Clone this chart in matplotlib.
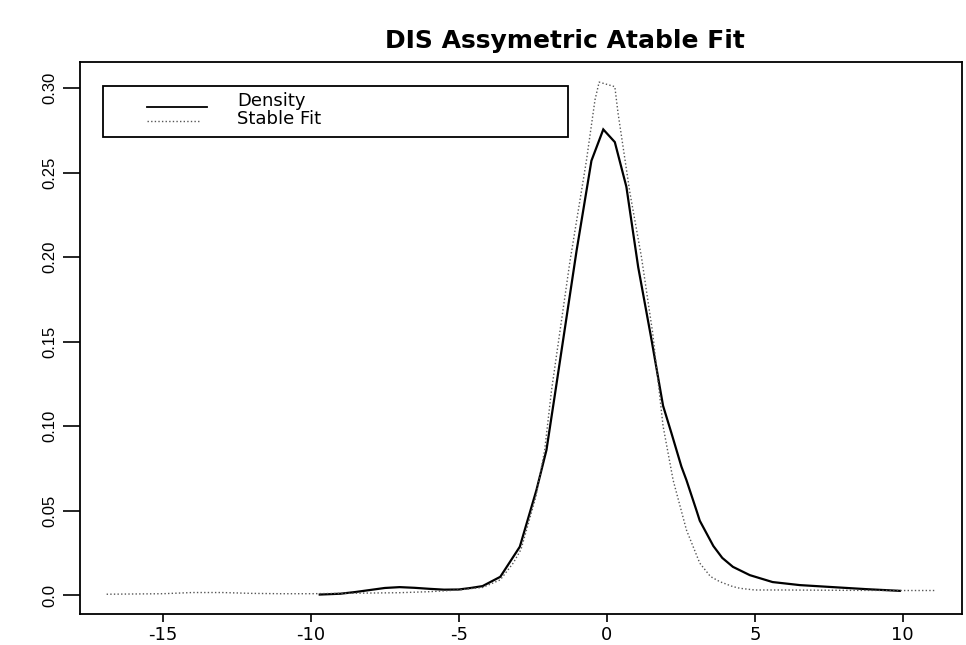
import matplotlib
matplotlib.use("Agg")
import matplotlib.pyplot as plt
from matplotlib.patches import Rectangle

# kernel density of the DIS returns (solid)
dens_x = [-9.7, -9.0, -8.5, -8.0, -7.5, -7.0, -6.5, -6.0, -5.5, -5.0, -4.6, -4.2,
          -3.6, -2.94, -2.38, -2.04, -1.76, -1.02, -0.52, -0.12, 0.27, 0.66,
          1.06, 1.5, 1.9, 2.18, 2.52, 2.69, 3.03, 3.14, 3.6, 3.9, 4.26, 4.83,
          5.6, 6.52, 7.64, 8.77, 9.9]
dens_y = [0.0003, 0.0008, 0.0018, 0.003, 0.0042, 0.0047, 0.0043, 0.0037, 0.0032,
          0.0033, 0.0042, 0.0053, 0.0108, 0.0286, 0.062, 0.0858, 0.118, 0.204,
          0.257, 0.2755, 0.268, 0.2416, 0.194, 0.152, 0.112, 0.096, 0.076, 0.068,
          0.050, 0.044, 0.029, 0.022, 0.0167, 0.0118, 0.0077, 0.0059, 0.0047,
          0.0035, 0.0025]

# asymmetric stable fit (dotted)
fit_x = [-16.9, -15.0, -14.0, -13.0, -12.0, -11.0, -10.0, -9.0, -8.0, -7.0, -6.0,
         -5.0, -4.5, -4.2, -3.6, -3.16, -2.9, -2.4, -2.1, -1.87, -1.25, -0.69,
         -0.4, -0.26, 0.27, 0.38, 0.78, 1.17, 1.55, 1.9, 2.24, 2.69, 3.14, 3.5,
         3.82, 4.26, 4.5, 5.0, 6.0, 8.0, 10.0, 11.1]
fit_y = [0.0005, 0.0008, 0.0015, 0.0015, 0.001, 0.0008, 0.0008, 0.001, 0.0012,
         0.0014, 0.002, 0.003, 0.004, 0.0045, 0.009, 0.019, 0.027, 0.058, 0.0858,
         0.121, 0.197, 0.257, 0.293, 0.3035, 0.3008, 0.285, 0.238, 0.20, 0.155,
         0.10, 0.068, 0.0385, 0.0189, 0.011, 0.0079, 0.005, 0.004, 0.003, 0.003,
         0.0028, 0.0027, 0.0027]

x_ticks = [-15, -10, -5, 0, 5, 10]
y_ticks = [0.0, 0.05, 0.10, 0.15, 0.20, 0.25, 0.30]
y_labels = ["0.0", "0.05", "0.10", "0.15", "0.20", "0.25", "0.30"]

# the scan is stretched sideways, so the wider DejaVu glyphs fit it better
plt.rcParams["font.family"] = ["DejaVu Sans"]

fig = plt.figure(figsize=(9.66, 6.45), dpi=100)
# axes box in pixels: left 80, right 962, top 62, bottom 614
ax = fig.add_axes([80 / 966, 31 / 645, 882 / 966, 552 / 645])

ax.plot(dens_x, dens_y, color="black", lw=1.6, solid_joinstyle="miter")
ax.plot(fit_x, fit_y, color="#555555", lw=1.0, linestyle=(0, (1, 1.6)))

ax.set_xlim(-17.8, 12.0)
ax.set_ylim(-0.0112, 0.3154)
ax.set_xticks(x_ticks)
ax.set_xticklabels([str(t) for t in x_ticks], fontsize=13)
ax.set_yticks(y_ticks)
ax.set_yticklabels(y_labels, fontsize=12, rotation=90, va="center",
                   family="Liberation Sans")
ax.tick_params(axis="x", direction="out", length=6, width=1.2, pad=3)
ax.tick_params(axis="y", direction="out", length=12, width=1.2, pad=4)
for s in ax.spines.values():
    s.set_linewidth(1.3)

# R-style legend box
ax.add_patch(Rectangle((0.026, 0.864), 0.527, 0.093, transform=ax.transAxes,
                       fill=False, lw=1.3, ec="black"))
ax.plot([0.076, 0.144], [0.918, 0.918], transform=ax.transAxes, color="black", lw=1.3)
ax.plot([0.076, 0.136], [0.894, 0.894], transform=ax.transAxes, color="#555555",
        lw=1.0, linestyle=(0, (1, 1.6)))
ax.text(0.178, 0.929, "Density", transform=ax.transAxes, va="center", fontsize=13)
ax.text(0.178, 0.897, "Stable Fit", transform=ax.transAxes, va="center", fontsize=13)

fig.text(565 / 966, 1 - 41 / 645, "DIS Assymetric Atable Fit", ha="center",
         va="center", fontsize=18, fontweight="bold")

fig.savefig("out.png", dpi=100)
